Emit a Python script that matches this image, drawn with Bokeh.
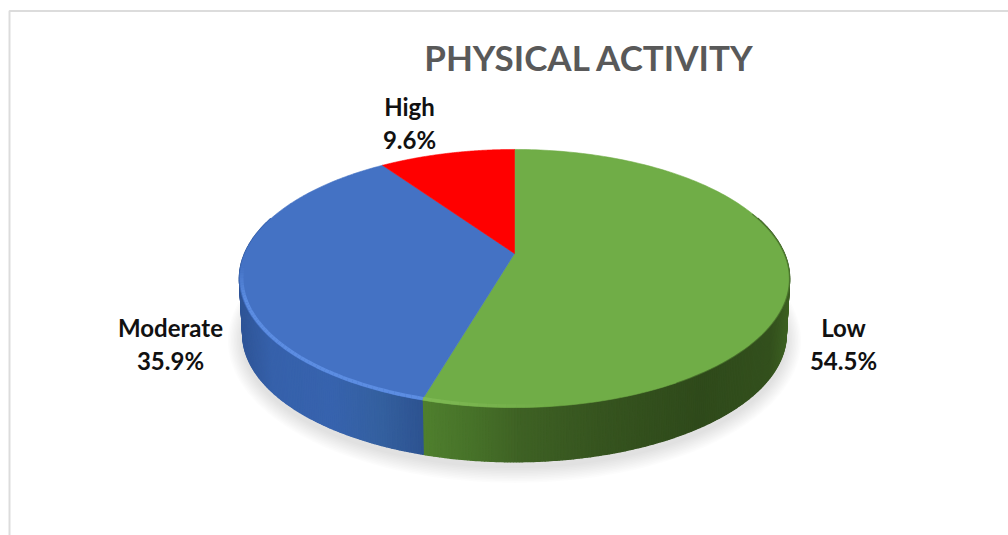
import numpy as np
from bokeh.plotting import figure
from bokeh.models import Range1d
from bokeh.core.properties import value
from bokeh.embed import file_html
from bokeh.resources import INLINE

# --- data ---
title = "PHYSICAL ACTIVITY"
categories = ["Low", "Moderate", "High"]
shares = [54.5, 35.9, 9.6]

# --- style ---
top_colors = ["#70AD47", "#4472C4", "#FF0000"]
rim_light = ["#80BA55", "#5C8DE2", "#FF0000"]
# side shade stops: (screen x, colour)
side_stops = [
    [(423, "#4F7F2E"), (470, "#477229"), (520, "#3E6124"), (600, "#36541F"), (700, "#2F4A1B"), (770, "#33501D"), (792, "#3F6423")],
    [(238, "#2F5597"), (270, "#3661AB"), (330, "#3763AE"), (380, "#34609F"), (423, "#2D5290")],
    [(238, "#C00000"), (792, "#C00000")],
]
label_x = [843, 170, 409]
label_y = [327, 327, 106]
line_gap = 33

# projection of the round pie onto the screen (perspective tilt)
APEX_X, APEX_Y, A, B, K = 514.0, 253.0, 269.8, 124.2, 0.1938
DEPTH, BOTTOM_SCALE = 56.0, 0.988


def project(theta, depth=0.0, scale=1.0, radius=1.0):
    u, v = radius * np.sin(theta), radius * np.cos(theta)
    w = 1 + K * v
    return APEX_X + scale * A * u / w, APEX_Y + depth - scale * B * v / w


def hex_rgb(c):
    return np.array([int(c[i:i + 2], 16) for i in (1, 3, 5)], float)


def shade(stops, x):
    xs = [s[0] for s in stops]
    rgb = np.array([hex_rgb(s[1]) for s in stops])
    vals = [np.interp(x, xs, rgb[:, i]) for i in range(3)]
    return "#%02X%02X%02X" % tuple(int(round(c)) for c in vals)


p = figure(width=1008, height=535, output_backend="svg", toolbar_location=None,
           x_range=Range1d(0, 1008), y_range=Range1d(535, 0),
           x_axis_location=None, y_axis_location=None, min_border=0)
p.grid.visible = False
p.outline_line_color = None
p.background_fill_color = "#FFFFFF"
p.border_fill_color = "#FFFFFF"

# chart frame
p.line([9, 9, 1008], [535, 10.5, 10.5], line_color="#DCDCDC", line_width=2)

# soft shadow beneath the disc
full = np.linspace(0, 2 * np.pi, 241)
for grow in np.arange(15, 0, -1.5):
    sx, sy = project(full, depth=DEPTH + 5, scale=BOTTOM_SCALE)
    cx, cy = sx.mean(), sy.mean()
    ex = cx + (sx - cx) * (1 + grow / 272)
    ey = cy + (sy - cy) * (1 + grow / 130)
    p.patch(ex, ey, fill_color="#000000", fill_alpha=0.012, line_color=None)

# slice boundaries from the shares
cum = np.cumsum([0] + shares) / sum(shares) * 2 * np.pi

# side wall
xs, ys, cols = [], [], []
for i, (t0, t1) in enumerate(zip(cum[:-1], cum[1:])):
    n = max(2, int(np.degrees(t1 - t0) * 2))
    ts = np.linspace(t0, t1, n + 1)
    for a, b in zip(ts[:-1], ts[1:]):
        if np.cos((a + b) / 2) > 0.30:
            continue
        xa, ya = project(a)
        xb, yb = project(b)
        xc, yc = project(b, DEPTH, BOTTOM_SCALE)
        xd, yd = project(a, DEPTH, BOTTOM_SCALE)
        xs.append([xa, xb, xc, xd])
        ys.append([ya, yb, yc, yd])
        cols.append(shade(side_stops[i], (xa + xb) / 2))
p.patches(xs, ys, fill_color=cols, line_color=cols, line_width=1.5)

# top faces
for i, (t0, t1) in enumerate(zip(cum[:-1], cum[1:])):
    ts = np.linspace(t0, t1, 181)
    rx, ry = project(ts)
    p.patch(np.r_[APEX_X, rx], np.r_[APEX_Y, ry], fill_color=top_colors[i],
            line_color=top_colors[i], line_width=0.6)

# bevel highlight along the front rim
for i, (t0, t1) in enumerate(zip(cum[:-1], cum[1:])):
    if i == 2:
        continue
    ts = np.linspace(t0, t1, 120)
    for a, b in zip(ts[:-1], ts[1:]):
        m = (a + b) / 2
        if np.cos(m) > 0.10:
            continue
        xa, ya = project(np.array([a, b]), radius=0.992)
        if i == 1:
            alpha = min(1.0, np.clip((-np.cos(m) - 0.1) / 0.25, 0, 1))
        else:
            alpha = np.clip((m - np.radians(172)) / np.radians(24), 0, 1) * 0.9
        p.line(xa, ya, line_color=rim_light[i], line_alpha=float(alpha), line_width=3.5)
    # dark thin seam on the right part of the green edge
    if i == 0:
        ts2 = np.linspace(np.radians(70), np.radians(150), 50)
        rx, ry = project(ts2, depth=0.3)
        p.line(rx, ry, line_color="#3E6124", line_alpha=0.6, line_width=1.2)

# texts
p.text([589], [56], text=[title], text_font=value("Lato"), text_font_style="bold",
       text_font_size="35px", text_color="#595959", text_align="center", text_baseline="alphabetic")
pct = [f"{v}%" for v in shares]
ly = np.array(label_y, float)
p.text(label_x, ly, text=categories, text_font=value("Lato"), text_font_style="bold",
       text_font_size="24px", text_color="#111111", text_align="center", text_baseline="alphabetic")
p.text(label_x, ly + line_gap, text=pct, text_font=value("Lato"), text_font_style="bold",
       text_font_size="24px", text_color="#111111", text_align="center", text_baseline="alphabetic")

open("out.html", "w").write(file_html(p, INLINE))
